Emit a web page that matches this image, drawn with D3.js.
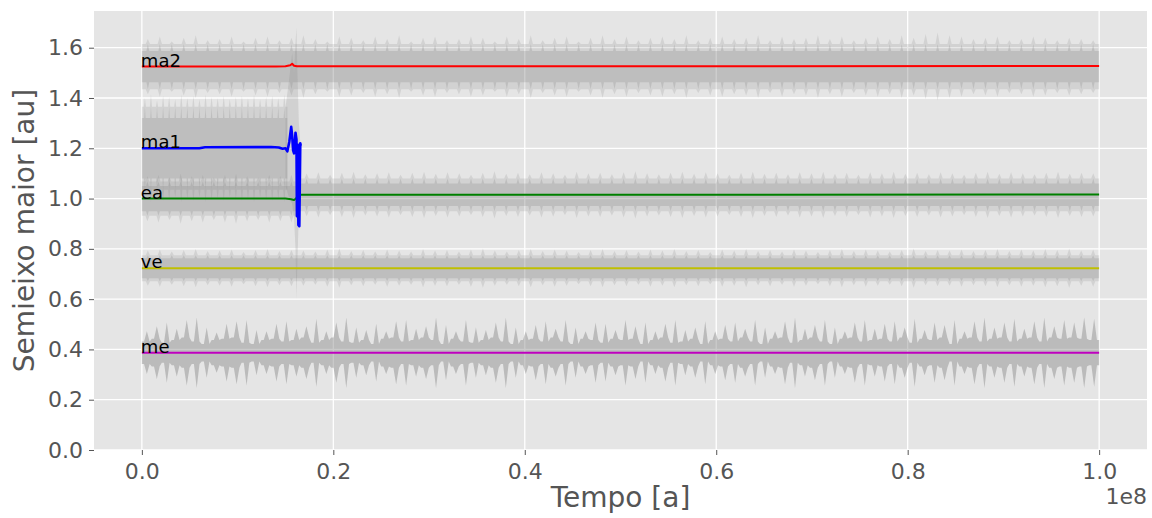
<!DOCTYPE html>
<html>
<head>
<meta charset="utf-8">
<script src="https://cdn.jsdelivr.net/npm/d3@7"></script>
<style>
  body { margin: 0; background: #fff; }
  svg text { font-family: "DejaVu Sans", sans-serif; }
</style>
</head>
<body>
<div id="chart"></div>
<script>
// mean semi-major axis lines (time in units of 1e8 yr)
const planetNames = ["ma2", "ma1", "ea", "ve", "me"];
const planetColors = ["#ff0000", "#0000ff", "#008000", "#bfbf00", "#bf00bf"];

const ma2T = [0, 0.140, 0.150, 0.155, 0.157, 0.159, 0.162, 1.0];
const ma2A = [1.525, 1.525, 1.526, 1.530, 1.536, 1.528, 1.526, 1.527];
const ma1T = [0, 0.060, 0.066, 0.135, 0.143, 0.147, 0.150, 0.152, 0.154, 0.156, 0.157, 0.158, 0.159, 0.1605, 0.1615, 0.162, 0.1628, 0.1635, 0.1645, 0.1655, 0.166];
const ma1A = [1.200, 1.200, 1.204, 1.205, 1.203, 1.198, 1.200, 1.188, 1.225, 1.285, 1.250, 1.192, 1.180, 1.262, 1.235, 0.930, 1.215, 0.895, 0.890, 1.220, 1.210];
const eaT = [0, 0.150, 0.156, 0.159, 0.161, 0.163, 0.166, 1.0];
const eaA = [1.000, 1.000, 0.997, 0.994, 1.000, 1.012, 1.015, 1.016];
const veT = [0, 1.0];
const veA = [0.723, 0.723];
const meT = [0, 1.0];
const meA = [0.387, 0.387];

// perihelion/aphelion spread around the mean (AU)
const mePeaks = [
  0.085,0.105,0.120,0.095,0.130,0.140,0.100,0.080,0.115,0.125,
  0.130,0.090,0.085,0.115,0.125,0.095,0.105,0.135,0.085,0.120,
  0.140,0.100,0.090,0.115,0.085,0.125,0.130,0.095,0.105,0.140,
  0.110,0.085,0.130,0.100,0.090,0.120,0.140,0.100,0.085,0.110,
  0.125,0.095,0.130,0.100,0.085,0.120,0.115,0.090,0.130,0.105,
  0.120,0.085,0.115,0.130,0.090,0.100,0.125,0.085,0.110,0.120,
  0.095,0.130,0.100,0.085,0.125,0.140,0.095,0.110,0.130,0.100,
  0.085,0.120,0.130,0.095,0.115,0.125,0.100,0.135,0.090,0.120,
  0.110,0.130,0.085,0.125,0.140,0.100,0.120,0.135,0.095,0.125,
  0.140,0.105,0.130,0.120,0.140,0.135];
const meTroughs = [
  0.045,0.055,0.040,0.050,0.060,0.045,0.035,0.050,0.055,0.060,
  0.040,0.035,0.050,0.055,0.045,0.050,0.060,0.040,0.050,0.060,
  0.045,0.040,0.050,0.035,0.055,0.060,0.045,0.050,0.060,0.050,
  0.035,0.055,0.045,0.040,0.050,0.060,0.045,0.035,0.050,0.055,
  0.045,0.060,0.045,0.035,0.055,0.050,0.040,0.055,0.050,0.055,
  0.035,0.050,0.060,0.040,0.045,0.055,0.035,0.050,0.055,0.045,
  0.060,0.045,0.035,0.055,0.060,0.040,0.050,0.060,0.045,0.035,
  0.055,0.060,0.045,0.050,0.055,0.045,0.060,0.040,0.055,0.050,
  0.060,0.035,0.055,0.060,0.045,0.055,0.060,0.045,0.055,0.060,
  0.045,0.060,0.055,0.060,0.055,0.050];

const ma2Peaks = [
  0.110,0.120,0.100,0.115,0.125,0.105,0.110,0.120,0.100,0.115,
  0.120,0.105,0.115,0.125,0.110,0.100,0.120,0.115,0.105,0.120,
  0.110,0.125,0.100,0.115,0.120,0.105,0.110,0.120,0.115,0.100,
  0.120,0.110,0.125,0.105,0.115,0.120,0.100,0.115,0.125,0.110,
  0.120,0.105,0.115,0.120,0.110,0.125,0.105,0.115,0.120,0.110,
  0.115,0.125,0.105,0.120,0.110,0.115,0.125,0.110,0.120,0.105,
  0.115,0.120,0.110,0.125,0.115,0.130,0.135,0.125,0.120,0.110,
  0.115,0.120,0.105,0.110,0.120,0.115,0.105,0.115,0.110,0.105];
const eaBeforePeaks = [0.090,0.095,0.085,0.100,0.090,0.095,0.085,0.095,0.100,0.090,0.085,0.095,0.090,0.095];
const eaAfterPeaks = [
  0.085,0.090,0.080,0.088,0.092,0.082,0.086,0.090,0.080,0.088,
  0.092,0.084,0.090,0.086,0.080,0.088,0.094,0.084,0.088,0.082,
  0.090,0.086,0.080,0.092,0.086,0.088,0.082,0.090,0.094,0.086,
  0.082,0.088,0.092,0.084,0.090,0.086,0.080,0.088,0.092,0.084,
  0.088,0.082,0.090,0.086,0.092,0.084,0.088,0.080,0.090,0.086,
  0.092,0.084,0.088,0.082,0.090,0.086,0.080,0.088,0.092,0.084,
  0.090,0.086,0.082,0.088,0.092,0.084,0.088,0.086];
const vePeaks = [
  0.070,0.074,0.066,0.072,0.076,0.068,0.070,0.074,0.064,0.072,
  0.076,0.068,0.072,0.070,0.066,0.074,0.078,0.068,0.072,0.066,
  0.074,0.070,0.066,0.076,0.070,0.072,0.066,0.074,0.078,0.070,
  0.066,0.072,0.076,0.068,0.074,0.070,0.064,0.072,0.076,0.068,
  0.072,0.066,0.074,0.070,0.076,0.068,0.072,0.064,0.074,0.070,
  0.076,0.068,0.072,0.066,0.074,0.070,0.064,0.072,0.076,0.068,
  0.074,0.070,0.066,0.072,0.078,0.068,0.072,0.070,0.074,0.068,
  0.072,0.076,0.068,0.074,0.070,0.076,0.072,0.078,0.070,0.074];
const ma1Peaks = [0.200,0.215,0.190,0.210,0.205,0.195,0.215,0.200,0.210,0.195,0.215,0.205,0.200,0.210,0.195,0.205,0.210,0.200,0.215,0.195,0.205,0.210,0.200,0.215];

// ma1 spread while it is being ejected
const ejectT = [0.150, 0.154, 0.157, 0.159, 0.1605, 0.1615, 0.1625, 0.164, 0.166];
const ejectLow = [1.05, 1.00, 0.98, 0.92, 0.80, 0.60, 0.75, 0.95, 1.10];
const ejectHigh = [1.36, 1.48, 1.58, 1.50, 1.62, 1.68, 1.50, 1.30, 1.20];

const xTicks = [0, 0.2, 0.4, 0.6, 0.8, 1.0];
const yTicks = [0, 0.2, 0.4, 0.6, 0.8, 1.0, 1.2, 1.4, 1.6];

const W = 1152, H = 518;
const plot = { left: 94, right: 1147, top: 11, bottom: 450 };

const svg = d3.select("#chart").append("svg")
  .attr("width", W).attr("height", H);

const x = d3.scaleLinear().domain([-0.05, 1.05]).range([plot.left, plot.right]);
const y = d3.scaleLinear().domain([0, 1.746]).range([plot.bottom, plot.top]);

svg.append("rect")
  .attr("x", plot.left).attr("y", plot.top)
  .attr("width", plot.right - plot.left).attr("height", plot.bottom - plot.top)
  .attr("fill", "#e5e5e5");

// grid
svg.append("g").selectAll("line").data(xTicks).enter().append("line")
  .attr("x1", d => x(d)).attr("x2", d => x(d))
  .attr("y1", plot.top).attr("y2", plot.bottom)
  .attr("stroke", "#fff").attr("stroke-width", 1.3);
svg.append("g").selectAll("line").data(yTicks).enter().append("line")
  .attr("x1", plot.left).attr("x2", plot.right)
  .attr("y1", d => y(d)).attr("y2", d => y(d))
  .attr("stroke", "#fff").attr("stroke-width", 1.3);

svg.append("clipPath").attr("id", "clip").append("rect")
  .attr("x", plot.left).attr("y", plot.top)
  .attr("width", plot.right - plot.left).attr("height", plot.bottom - plot.top);

const g = svg.append("g").attr("clip-path", "url(#clip)");

const area = d3.area()
  .x(d => x(d.t))
  .y0(d => y(d.a - d.dev))
  .y1(d => y(d.a + d.dev));

// spiky edge: flat trough, narrow peak, flat trough ...
function spikes(a, peaks, troughs, t0, t1, w) {
  const step = (t1 - t0) / peaks.length;
  const pts = [];
  peaks.forEach((p, i) => {
    const tr = Array.isArray(troughs) ? troughs[i] : troughs;
    pts.push({ t: t0 + i * step, a: a, dev: tr });
    pts.push({ t: t0 + (i + 0.5 - w) * step, a: a, dev: tr });
    pts.push({ t: t0 + (i + 0.5) * step, a: a, dev: p });
    pts.push({ t: t0 + (i + 0.5 + w) * step, a: a, dev: tr });
  });
  const last = Array.isArray(troughs) ? troughs[troughs.length - 1] : troughs;
  pts.push({ t: t1, a: a, dev: last });
  return pts;
}

function band(a, peaks, haze, core, t0, t1) {
  g.append("path").datum(spikes(a, peaks, haze, t0, t1, 0.18))
    .attr("d", area).attr("fill", "#808080").attr("fill-opacity", 0.18);
  g.append("path").datum(spikes(a, peaks.slice().reverse(), core, t0, t1, 0.12).map(d => ({ t: d.t, a: d.a, dev: Math.min(d.dev, haze) })))
    .attr("d", area).attr("fill", "#808080").attr("fill-opacity", 0.24);
}

// mercury band: one solid spiky fill
g.append("path").datum(spikes(0.387, mePeaks, meTroughs, 0, 1.0, 0.28))
  .attr("d", area).attr("fill", "#808080").attr("fill-opacity", 0.42);

band(0.723, vePeaks, 0.052, 0.040, 0, 1.0);
band(1.000, eaBeforePeaks, 0.068, 0.050, 0, 0.162);
band(1.015, eaAfterPeaks, 0.065, 0.045, 0.166, 1.0);
band(1.200, ma1Peaks, 0.165, 0.120, 0, 0.152);
band(1.525, ma2Peaks, 0.090, 0.062, 0, 1.0);

g.append("path")
  .datum(ejectT.map((t, i) => ({ t: t, lo: ejectLow[i], hi: ejectHigh[i] })))
  .attr("d", d3.area().x(d => x(d.t)).y0(d => y(d.lo)).y1(d => y(d.hi)))
  .attr("fill", "#808080").attr("fill-opacity", 0.2);

// mean lines
const line = d3.line().x(d => x(d.t)).y(d => y(d.a));
const series = [
  { name: "me", t: meT, a: meA, color: planetColors[4], w: 2 },
  { name: "ve", t: veT, a: veA, color: planetColors[3], w: 2 },
  { name: "ea", t: eaT, a: eaA, color: planetColors[2], w: 2 },
  { name: "ma2", t: ma2T, a: ma2A, color: planetColors[0], w: 2 },
  { name: "ma1", t: ma1T, a: ma1A, color: planetColors[1], w: 2.6 }
];
series.forEach(s => {
  g.append("path")
    .datum(s.t.map((t, i) => ({ t: t, a: s.a[i] })))
    .attr("d", line)
    .attr("fill", "none")
    .attr("stroke", s.color)
    .attr("stroke-width", s.w)
    .attr("stroke-linejoin", "round");
});

// planet labels
series.forEach(s => {
  svg.append("text")
    .attr("x", x(0) - 1)
    .attr("y", y(s.a[0]))
    .attr("font-size", 18)
    .attr("fill", "#000")
    .text(s.name);
});

// axes
const xAxis = svg.append("g")
  .attr("transform", `translate(0,${plot.bottom})`)
  .call(d3.axisBottom(x).tickValues(xTicks).tickFormat(d3.format(".1f")).tickSize(5).tickPadding(8));
const yAxis = svg.append("g")
  .attr("transform", `translate(${plot.left},0)`)
  .call(d3.axisLeft(y).tickValues(yTicks).tickFormat(d3.format(".1f")).tickSize(5).tickPadding(6));

[xAxis, yAxis].forEach(ax => {
  ax.select(".domain").remove();
  ax.selectAll(".tick line").attr("stroke", "#555");
  ax.selectAll(".tick text")
    .attr("fill", "#555")
    .attr("font-size", 22)
    .attr("font-family", "DejaVu Sans, sans-serif");
});

svg.append("text")
  .attr("x", plot.right).attr("y", 504)
  .attr("text-anchor", "end")
  .attr("font-size", 22).attr("fill", "#555")
  .text("1e8");

svg.append("text")
  .attr("x", (plot.left + plot.right) / 2).attr("y", 507)
  .attr("text-anchor", "middle")
  .attr("font-size", 28).attr("fill", "#555")
  .text("Tempo [a]");

svg.append("text")
  .attr("transform", `translate(34,${(plot.top + plot.bottom) / 2}) rotate(-90)`)
  .attr("text-anchor", "middle")
  .attr("font-size", 28).attr("fill", "#555")
  .text("Semieixo maior [au]");
</script>
</body>
</html>
